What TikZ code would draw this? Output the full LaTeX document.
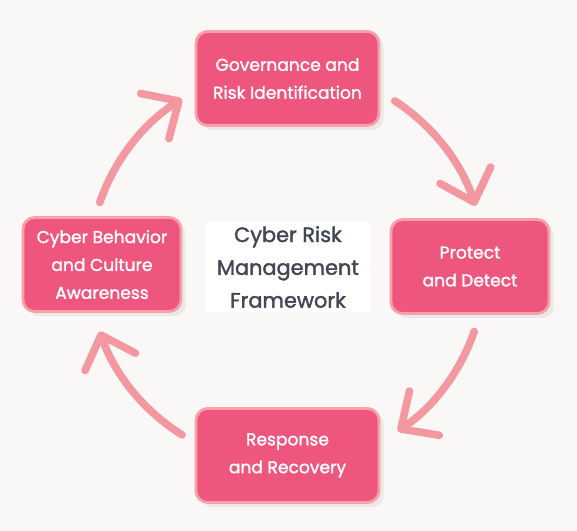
\documentclass[tikz,border=0pt]{standalone}
\usepackage{fontspec}
\setmainfont{Poppins}[FakeBold=1.6]
\usetikzlibrary{arrows.meta,shadows,calc}
\definecolor{boxpink}{RGB}{239,86,126}
\definecolor{boxedge}{RGB}{246,160,168}
\definecolor{arrowpink}{RGB}{243,152,160}
\definecolor{titlegray}{RGB}{66,70,82}
\definecolor{paper}{RGB}{249,248,246}
\begin{document}
\begin{tikzpicture}[x=0.03cm, y=0.03cm, line join=round, line cap=round,
	stagebox/.style={draw=boxedge, line width=2.4pt, fill=boxpink, rounded corners=10pt, text=white, align=center, inner sep=0pt, font=\fontsize{14.6}{23.8}\selectfont, minimum height=2.82cm, drop shadow={opacity=0.12, shadow xshift=4pt, shadow yshift=-4pt}},
	widebox/.style={stagebox, minimum width=5.49cm},
	narrowbox/.style={stagebox, minimum width=4.74cm},
	cyclearrow/.style={arrowpink, line width=6.5pt, -{Straight Barb[round, length=0.85cm, width=1.6cm]}}]
	
	\fill[paper] (0,0) rectangle (577,531);
	\useasboundingbox (0,0) rectangle (577,531);
	
	\coordinate (O) at (287,264);
	\coordinate (s1) at ($(O)+(161:198)$);
	\coordinate (s2) at ($(O)+(57:198)$);
	\coordinate (s3) at ($(O)+(-19:198)$);
	\coordinate (s4) at ($(O)+(-122:198)$);
	
	\draw[cyclearrow] (s1) arc[start angle=161, end angle=122, radius=198];
	\draw[cyclearrow] (s2) arc[start angle=57, end angle=18, radius=198];
	\draw[cyclearrow] (s3) arc[start angle=-19, end angle=-56, radius=198];
	\draw[cyclearrow] (s4) arc[start angle=-122, end angle=-161, radius=198];
	
	\node[widebox] (govern) at (287.5,452.5) {Governance and\\Risk Identification};
	\node[narrowbox] (protect) at (470,264.5) {Protect\\and Detect};
	\node[widebox] (response) at (287.5,75.5) {Response\\and Recovery};
	\node[narrowbox] (culture) at (102,266.5) {Cyber Behavior\\and Culture\\Awareness};
	
	\node[fill=white, text=titlegray, align=center, inner sep=0pt, minimum width=4.92cm, minimum height=2.7cm, font=\fontsize{17.8}{28}\selectfont] (title) at (288,264) {Cyber Risk\\Management\\Framework};
\end{tikzpicture}
\end{document}
